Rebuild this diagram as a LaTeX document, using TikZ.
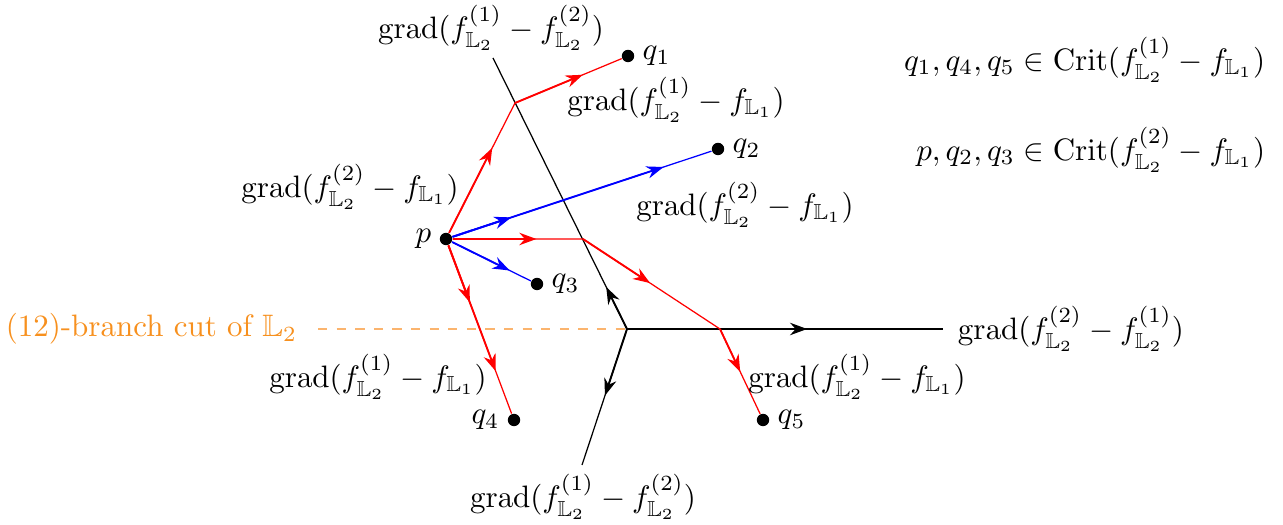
\documentclass[tikz,border=0pt]{standalone}
\usepackage{amsmath,amssymb}
\usepackage{xcolor}
\usepackage{tikz}
\usetikzlibrary{calc,arrows.meta,positioning}
\definecolor{cutc}{HTML}{F7901E}
\definecolor{cutl}{HTML}{FBB46E}
\tikzset{
  dot/.style={circle,fill=black,inner sep=0pt,minimum size=4pt},
  ar/.style={-{Stealth[length=5.5pt,width=4pt]},semithick},
  redl/.style={red,thin},
  bluel/.style={blue,thin},
  wall/.style={black,thin}
}
\newcommand{\gradf}[2]{$\mathrm{grad}(f^{(#1)}_{\mathbb{L}_2}-#2)$}
\newcommand{\fL}{f_{\mathbb{L}_1}}
\newcommand{\fLL}[1]{f^{(#1)}_{\mathbb{L}_2}}

\begin{document}
\begin{tikzpicture}[x=0.3226pt,y=-0.3226pt]
\useasboundingbox (0,0) rectangle (1283,525);
% critical points
\node[dot,label={[label distance=-1pt]left:$p$}] (p) at (446,239) {};
\node[dot,label={[label distance=-1pt]right:$q_1$}] (q1) at (628,56) {};
\node[dot,label={[label distance=-1pt]right:$q_2$}] (q2) at (718,149) {};
\node[dot,label={[label distance=-1pt]right:$q_3$}] (q3) at (537,284) {};
\node[dot,label={[label distance=-1pt]left:$q_4$}] (q4) at (514,420) {};
\node[dot,label={[label distance=-1pt]right:$q_5$}] (q5) at (763,420) {};
% walls and bends
\coordinate (c) at (627,329);
\coordinate (wt) at (493,58);
\coordinate (wb) at (582,465);
\coordinate (wr) at (943,329);
\coordinate (cl) at (318,329);
\coordinate (k1) at (515,103);
\coordinate (k2) at (583,239);
\coordinate (k3) at (720,329);
% branch cut
\draw[cutl,semithick,dashed] (cl) -- (c);
\node[cutc,anchor=east] (cut) at (308,329) {(12)-branch cut of $\mathbb{L}_2$};
% walls
\draw[wall] (wt) -- (c) -- (wb);
\draw[wall] (c) -- (wr);
\draw[wall,ar] (c) -- ($(c)!0.155!(wt)$);
\draw[wall,ar] (c) -- ($(c)!0.49!(wb)$);
\draw[wall,ar] (c) -- ($(c)!0.57!(wr)$);
% red flows
\draw[redl] (p) -- (k1) -- (q1);
\draw[redl,ar] (p) -- ($(p)!0.67!(k1)$);
\draw[redl,ar] (k1) -- ($(k1)!0.6!(q1)$);
\draw[redl] (p) -- (k2) -- (k3) -- (q5);
\draw[redl,ar] (p) -- ($(p)!0.66!(k2)$);
\draw[redl,ar] (k2) -- ($(k2)!0.49!(k3)$);
\draw[redl,ar] (k3) -- ($(k3)!0.47!(q5)$);
\draw[redl] (p) -- (q4);
\draw[redl,ar] (p) -- ($(p)!0.35!(q4)$);
\draw[redl,ar] (p) -- ($(p)!0.73!(q4)$);
% blue flows
\draw[bluel] (p) -- (q2);
\draw[bluel,ar] (p) -- ($(p)!0.24!(q2)$);
\draw[bluel,ar] (p) -- ($(p)!0.8!(q2)$);
\draw[bluel] (p) -- (q3);
\draw[bluel,ar] (p) -- ($(p)!0.7!(q3)$);
% labels
\node (gt) at (491,28) {\gradf{1}{\fLL{2}}};
\node (gb) at (583,497) {\gradf{1}{\fLL{2}}};
\node[anchor=west] (gr) at (947,329) {\gradf{2}{\fLL{1}}};
\node (g1) at (676,100) {\gradf{1}{\fL}};
\node (g2) at (350,187) {\gradf{2}{\fL}};
\node (g3) at (745,205) {\gradf{2}{\fL}};
\node (g4) at (378,377) {\gradf{1}{\fL}};
\node (g5) at (857,377) {\gradf{1}{\fL}};
\node[anchor=east] (crit1) at (1276,60) {$q_1,q_4,q_5\in\mathrm{Crit}(\fLL{1}-\fL)$};
\node[anchor=east] (crit2) at (1276,150) {$p,q_2,q_3\in\mathrm{Crit}(\fLL{2}-\fL)$};
\end{tikzpicture}
\end{document}
